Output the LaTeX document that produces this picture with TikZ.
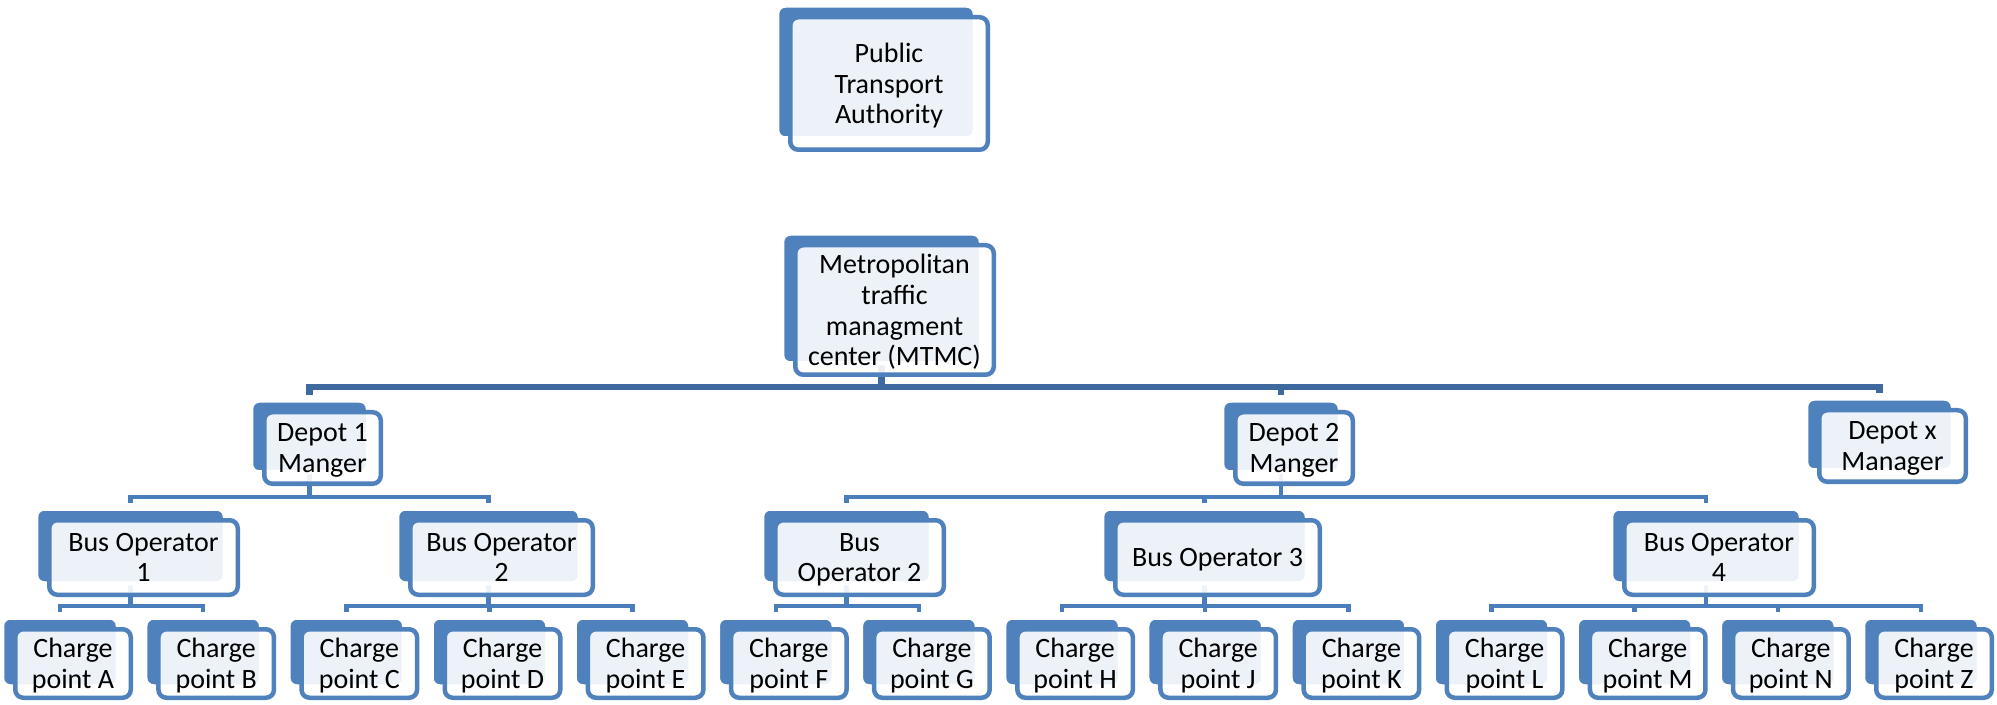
\documentclass[tikz,border=0pt]{standalone}
\usepackage{fontspec}
\setmainfont{Carlito}
\usepackage{xcolor}
\usetikzlibrary{calc, shadows, backgrounds}
\definecolor{cardblue}{HTML}{4F81BD}
\definecolor{linkblue}{HTML}{4A7EBB}
\definecolor{busblue}{HTML}{3F6AA0}

\begin{document}
\begin{tikzpicture}[x=0.5pt, y=-0.5pt]
    % Block styles
    \tikzstyle{card} = [rectangle, draw=cardblue, line width=2.25pt, rounded corners=4pt, fill=white, fill opacity=0.9, text opacity=1, text=black, align=center, inner sep=0pt, text depth=-1pt, font=\fontsize{14pt}{15.3pt}\selectfont, general shadow={fill=cardblue, fill opacity=1, draw=white, draw opacity=1, line width=2pt, shadow xshift=-6.5pt, shadow yshift=5.75pt}]
    \tikzstyle{depot} = [card, minimum height=35.75pt]
    \tikzstyle{operator} = [card, minimum height=37.25pt]
    \tikzstyle{charge} = [card, minimum width=57.75pt, minimum height=34.25pt]
    \tikzstyle{link} = [draw=linkblue, line width=2.25pt]
    \tikzstyle{toplink} = [draw=busblue, line width=3.25pt]
    \useasboundingbox (0,0) rectangle (1997,705);
    % Authorities
    \node[card, minimum width=98.75pt, minimum height=66.25pt] (pta) at (889,83.5) {Public\\Transport\\Authority};
    \node[card, minimum width=99.25pt, minimum height=64.75pt] (mtmc) at (894.5,310) {Metropolitan\\traffic\\managment\\center (MTMC)};
    % Depots
    \node[depot, minimum width=58.25pt] (depot_1) at (322.5,448) {Depot 1\\Manger};
    \node[depot, minimum width=58.75pt] (depot_2) at (1294,448) {Depot 2\\Manger};
    \node[depot, minimum width=73.25pt] (depot_x) at (1892.5,446) {Depot x\\Manager};
    % Bus operators
    \node[operator, minimum width=94.25pt] (bus_op1) at (143.5,557.5) {Bus Operator\\1};
    \node[operator, minimum width=91.25pt] (bus_op2) at (501.5,557.5) {Bus Operator\\2};
    \node[operator, minimum width=84.25pt] (bus_op2b) at (859.5,557.5) {Bus\\Operator 2};
    \node[operator, minimum width=102.25pt] (bus_op3) at (1217.5,557.5) {Bus Operator 3};
    \node[operator, minimum width=94.75pt] (bus_op4) at (1719,557.5) {Bus Operator\\4};
    % Charge points
    \node[charge] (charge_a) at (73,663.5) {Charge\\point A};
    \node[charge] (charge_b) at (216.2,663.5) {Charge\\point B};
    \node[charge] (charge_c) at (359.3,663.5) {Charge\\point C};
    \node[charge] (charge_d) at (502.5,663.5) {Charge\\point D};
    \node[charge] (charge_e) at (645.6,663.5) {Charge\\point E};
    \node[charge] (charge_f) at (788.8,663.5) {Charge\\point F};
    \node[charge] (charge_g) at (931.9,663.5) {Charge\\point G};
    \node[charge] (charge_h) at (1075.1,663.5) {Charge\\point H};
    \node[charge] (charge_j) at (1218.2,663.5) {Charge\\point J};
    \node[charge] (charge_k) at (1361.4,663.5) {Charge\\point K};
    \node[charge] (charge_l) at (1504.5,663.5) {Charge\\point L};
    \node[charge] (charge_m) at (1647.7,663.5) {Charge\\point M};
    \node[charge] (charge_n) at (1790.8,663.5) {Charge\\point N};
    \node[charge] (charge_z) at (1934,663.5) {Charge\\point Z};
    % Connections
    \begin{scope}[on background layer]
        \draw[toplink] ($(mtmc.center)+(-13,0)$) -- ++(0,77) -| ($(depot_1.north)+(-13,-15)$);
        \draw[toplink] ($(mtmc.center)+(-13,0)$) -- ++(0,77) -| ($(depot_2.north)+(-13,-15)$);
        \draw[toplink] ($(mtmc.center)+(-13,0)$) -- ++(0,77) -| ($(depot_x.north)+(-13,-15)$);
        \draw[link] ($(depot_1.center)+(-13,0)$) -- ++(0,49) -| ($(bus_op1.north)+(-13,-15)$);
        \draw[link] ($(depot_1.center)+(-13,0)$) -- ++(0,49) -| ($(bus_op2.north)+(-13,-15)$);
        \draw[link] ($(depot_2.center)+(-13,0)$) -- ++(0,49) -| ($(bus_op2b.north)+(-13,-15)$);
        \draw[link] ($(depot_2.center)+(-13,0)$) -- ++(0,49) -| ($(bus_op3.north)+(-13,-15)$);
        \draw[link] ($(depot_2.center)+(-13,0)$) -- ++(0,49) -| ($(bus_op4.north)+(-13,-15)$);
        \draw[link] ($(bus_op1.center)+(-13,0)$) -- ++(0,48.5) -| ($(charge_a.north)+(-13,-15)$);
        \draw[link] ($(bus_op1.center)+(-13,0)$) -- ++(0,48.5) -| ($(charge_b.north)+(-13,-15)$);
        \draw[link] ($(bus_op2.center)+(-13,0)$) -- ++(0,48.5) -| ($(charge_c.north)+(-13,-15)$);
        \draw[link] ($(bus_op2.center)+(-13,0)$) -- ++(0,48.5) -| ($(charge_d.north)+(-13,-15)$);
        \draw[link] ($(bus_op2.center)+(-13,0)$) -- ++(0,48.5) -| ($(charge_e.north)+(-13,-15)$);
        \draw[link] ($(bus_op2b.center)+(-13,0)$) -- ++(0,48.5) -| ($(charge_f.north)+(-13,-15)$);
        \draw[link] ($(bus_op2b.center)+(-13,0)$) -- ++(0,48.5) -| ($(charge_g.north)+(-13,-15)$);
        \draw[link] ($(bus_op3.center)+(-13,0)$) -- ++(0,48.5) -| ($(charge_h.north)+(-13,-15)$);
        \draw[link] ($(bus_op3.center)+(-13,0)$) -- ++(0,48.5) -| ($(charge_j.north)+(-13,-15)$);
        \draw[link] ($(bus_op3.center)+(-13,0)$) -- ++(0,48.5) -| ($(charge_k.north)+(-13,-15)$);
        \draw[link] ($(bus_op4.center)+(-13,0)$) -- ++(0,48.5) -| ($(charge_l.north)+(-13,-15)$);
        \draw[link] ($(bus_op4.center)+(-13,0)$) -- ++(0,48.5) -| ($(charge_m.north)+(-13,-15)$);
        \draw[link] ($(bus_op4.center)+(-13,0)$) -- ++(0,48.5) -| ($(charge_n.north)+(-13,-15)$);
        \draw[link] ($(bus_op4.center)+(-13,0)$) -- ++(0,48.5) -| ($(charge_z.north)+(-13,-15)$);
    \end{scope}
\end{tikzpicture}
\end{document}
